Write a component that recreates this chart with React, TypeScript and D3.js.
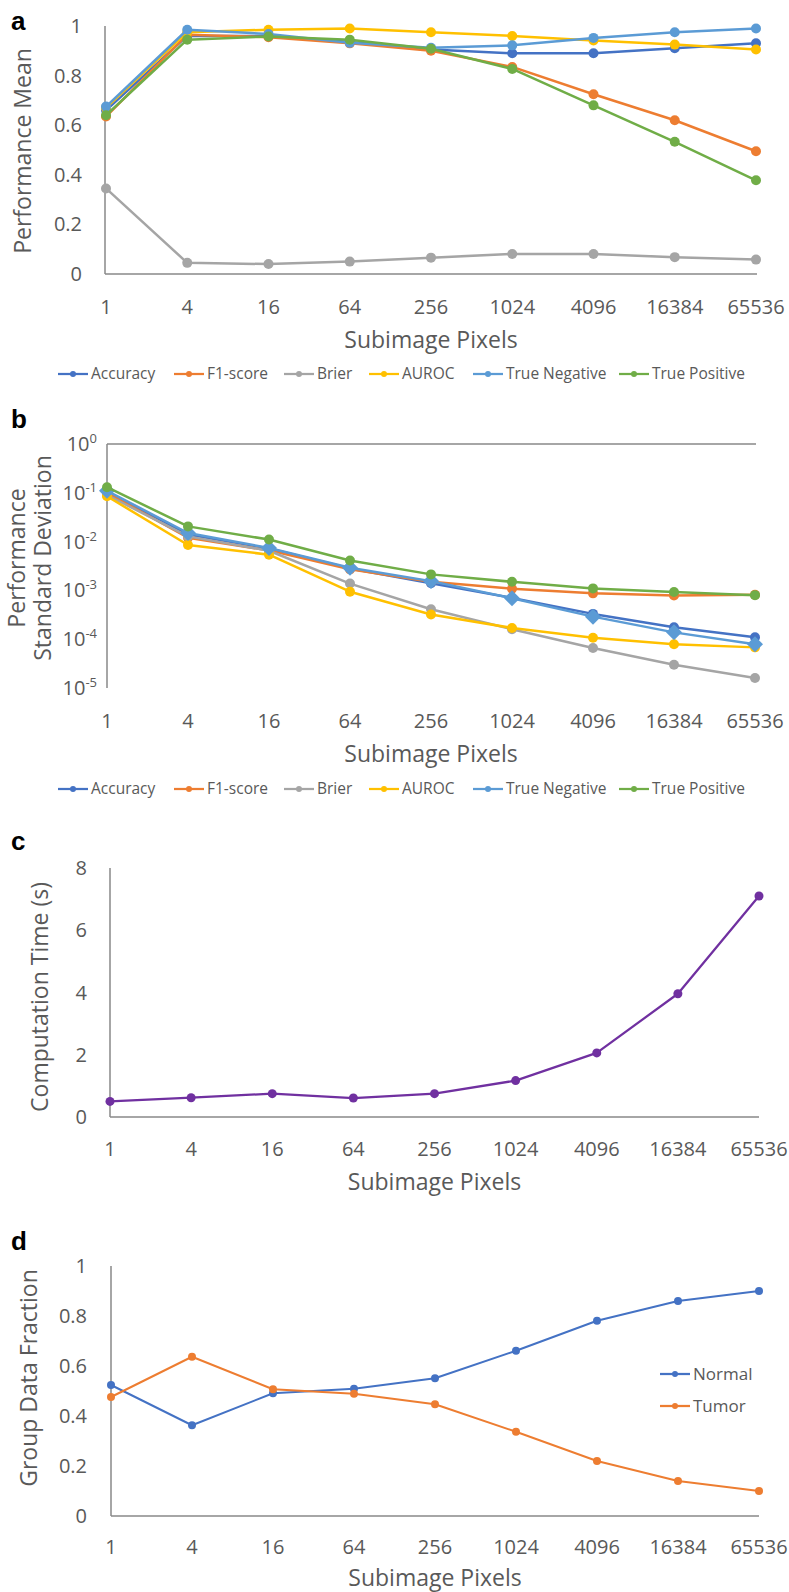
import React, { useEffect, useRef } from 'react';
import * as d3 from 'd3';

// subimage sizes shared by all four panels
const pixels = ['1', '4', '16', '64', '256', '1024', '4096', '16384', '65536'];

const metrics = ['Accuracy', 'F1-score', 'Brier', 'AUROC', 'True Negative', 'True Positive'];
const metricColors = ['#4472C4', '#ED7D31', '#A5A5A5', '#FFC000', '#5B9BD5', '#70AD47'];

// a: performance mean
const meanAccuracy = [0.66, 0.96, 0.96, 0.935, 0.905, 0.89, 0.89, 0.91, 0.93];
const meanF1 = [0.635, 0.965, 0.955, 0.93, 0.9, 0.835, 0.725, 0.62, 0.495];
const meanBrier = [0.345, 0.045, 0.04, 0.05, 0.066, 0.081, 0.081, 0.068, 0.058];
const meanAUROC = [0.67, 0.975, 0.985, 0.99, 0.975, 0.96, 0.942, 0.925, 0.905];
const meanTN = [0.675, 0.985, 0.968, 0.932, 0.912, 0.922, 0.952, 0.975, 0.99];
const meanTP = [0.64, 0.945, 0.958, 0.945, 0.908, 0.827, 0.68, 0.533, 0.378];

// b: performance standard deviation
const sdAccuracy = [0.105, 0.014, 0.0072, 0.0028, 0.0014, 0.0007, 0.00033, 0.000175, 0.00011];
const sdF1 = [0.1, 0.012, 0.0066, 0.0027, 0.0015, 0.00108, 0.00087, 0.00079, 0.00081];
const sdBrier = [0.09, 0.0128, 0.0065, 0.00138, 0.00041, 0.00016, 0.000066, 0.00003, 0.000016];
const sdAUROC = [0.085, 0.0085, 0.0054, 0.00094, 0.00032, 0.00017, 0.000107, 0.000079, 0.000068];
const sdTN = [0.11, 0.015, 0.0074, 0.0029, 0.00155, 0.00069, 0.00029, 0.000138, 0.000079];
const sdTP = [0.13, 0.0205, 0.011, 0.0041, 0.00213, 0.0015, 0.0011, 0.00093, 0.0008];

// c: computation time (s)
const compTime = [0.5, 0.62, 0.75, 0.61, 0.75, 1.17, 2.06, 3.96, 7.1];

// d: group data fraction
const groups = ['Normal', 'Tumor'];
const groupColors = ['#4472C4', '#ED7D31'];
const fracNormal = [0.524, 0.363, 0.491, 0.509, 0.551, 0.661, 0.781, 0.86, 0.9];
const fracTumor = [0.476, 0.637, 0.507, 0.489, 0.447, 0.337, 0.22, 0.14, 0.1];

const linearTicks = [0, 0.2, 0.4, 0.6, 0.8, 1];
const timeTicks = [0, 2, 4, 6, 8];
const logExponents = [0, -1, -2, -3, -4, -5];

const FONT = "'Open Sans', 'Liberation Sans', sans-serif";
const TEXT = '#595959';
const AXIS = '#898989';

const App = () => {
  const ref = useRef<SVGSVGElement>(null);

  useEffect(() => {
    const svg = d3.select(ref.current);
    svg.selectAll('*').remove();

    const panelLetter = (t: string, x: number, y: number) =>
      svg.append('text').attr('x', x).attr('y', y).text(t)
        .style('font-family', "'Liberation Sans', Arial, sans-serif")
        .style('font-weight', 'bold').style('font-size', '26px').attr('fill', '#000');

    const xAxis = (x: d3.ScalePoint<string>, y: number, titleY: number) => {
      const g = svg.append('g');
      g.selectAll('text.tick').data(pixels).enter().append('text')
        .attr('x', d => x(d)!).attr('y', y).attr('text-anchor', 'middle')
        .attr('fill', TEXT).style('font-family', FONT).style('font-size', '20px').text(d => d);
      const [r0, r1] = x.range();
      g.append('text').attr('x', (r0 + r1) / 2).attr('y', titleY).attr('text-anchor', 'middle')
        .attr('fill', TEXT).style('font-family', FONT).style('font-size', '23px').text('Subimage Pixels');
    };

    const yTitle = (lines: string[], cx: number, cy: number, lh: number) => {
      lines.forEach((t, i) => {
        const xx = cx + (i - (lines.length - 1) / 2) * lh;
        svg.append('text').attr('transform', `translate(${xx},${cy}) rotate(-90)`)
          .attr('text-anchor', 'middle').attr('dy', '0.35em').attr('fill', TEXT)
          .style('font-family', FONT).style('font-size', '23px').text(t);
      });
    };

    const series = (x: d3.ScalePoint<string>, y: (v: number) => number, vals: number[], color: string,
      width: number, r: number, diamond = false) => {
      const line = d3.line<number>().x((_, i) => x(pixels[i])!).y(d => y(d));
      svg.append('path').datum(vals).attr('d', line).attr('fill', 'none')
        .attr('stroke', color).attr('stroke-width', width).attr('stroke-linejoin', 'round');
      if (diamond) {
        svg.append('g').selectAll('path').data(vals).enter().append('path')
          .attr('d', `M0,${-r}L${r},0L0,${r}L${-r},0Z`)
          .attr('transform', (d, i) => `translate(${x(pixels[i])},${y(d)})`).attr('fill', color);
      } else {
        svg.append('g').selectAll('circle').data(vals).enter().append('circle')
          .attr('cx', (_, i) => x(pixels[i])!).attr('cy', d => y(d)).attr('r', r).attr('fill', color);
      }
    };

    const legend = (names: string[], colors: string[], xs: number[], ys: number[], size: number) => {
      names.forEach((n, i) => {
        const g = svg.append('g').attr('transform', `translate(${xs[i]},${ys[i]})`);
        g.append('line').attr('x1', 0).attr('x2', 30).attr('y1', 0).attr('y2', 0)
          .attr('stroke', colors[i]).attr('stroke-width', 2.25);
        g.append('circle').attr('cx', 15).attr('cy', 0).attr('r', 3).attr('fill', colors[i]);
        g.append('text').attr('x', 33).attr('y', 0).attr('dy', '0.35em').attr('fill', TEXT)
          .style('font-family', FONT).style('font-size', `${size}px`).text(n);
      });
    };

    const vLine = (x: number, y0: number, y1: number) =>
      svg.append('line').attr('x1', x).attr('x2', x).attr('y1', y0).attr('y2', y1)
        .attr('stroke', AXIS).attr('stroke-width', 1.5);
    const hLine = (y: number, x0: number, x1: number) =>
      svg.append('line').attr('x1', x0).attr('x2', x1).attr('y1', y).attr('y2', y)
        .attr('stroke', AXIS).attr('stroke-width', 1.5);

    const legendXs = [58, 174, 284, 369, 473, 619];

    // ---- a ----
    const xa = d3.scalePoint<string>().domain(pixels).range([106, 756]);
    const ya = d3.scaleLinear().domain([0, 1]).range([274, 26]);
    panelLetter('a', 11, 30);
    vLine(105, ya(1), ya(0));
    hLine(ya(0), 105, 757);
    linearTicks.forEach(t => svg.append('text').attr('x', 82).attr('y', ya(t)).attr('dy', '0.35em')
      .attr('text-anchor', 'end').attr('fill', TEXT).style('font-family', FONT).style('font-size', '20px')
      .text(d3.format('~g')(t)));
    yTitle(['Performance Mean'], 23, 151, 0);
    xAxis(xa, 314, 348);
    [meanAccuracy, meanF1, meanBrier, meanAUROC, meanTN, meanTP].forEach((s, i) =>
      series(xa, ya, s, metricColors[i], 2.5, 5));
    legend(metrics, metricColors, legendXs, metrics.map(() => 374), 15.5);

    // ---- b ----
    const xb = d3.scalePoint<string>().domain(pixels).range([107, 755]);
    const yb = d3.scaleLog().domain([1, 1e-5]).range([444, 688]);
    panelLetter('b', 11, 428);
    vLine(107, yb(1), yb(1e-5));
    hLine(yb(1), 107, 756);
    logExponents.forEach(e => {
      const t = svg.append('text').attr('x', 97).attr('y', yb(Math.pow(10, e)) + 7)
        .attr('text-anchor', 'end').attr('fill', TEXT).style('font-family', FONT).style('font-size', '20px');
      t.append('tspan').text('10');
      t.append('tspan').attr('dy', -8).style('font-size', '13px').text(String(e));
    });
    yTitle(['Performance', 'Standard Deviation'], 30, 558, 26);
    xAxis(xb, 728, 762);
    const sds = [sdAccuracy, sdF1, sdBrier, sdAUROC, sdTN, sdTP];
    sds.forEach((s, i) => series(xb, yb, s, metricColors[i], 2.5, i === 4 ? 8 : 5, i === 4));
    legend(metrics, metricColors, legendXs, metrics.map(() => 789), 15.5);

    // ---- c ----
    const xc = d3.scalePoint<string>().domain(pixels).range([110, 759]);
    const yc = d3.scaleLinear().domain([0, 8]).range([1117, 868]);
    panelLetter('c', 11, 850);
    vLine(110, yc(8), yc(0));
    hLine(yc(0), 110, 759);
    timeTicks.forEach(t => svg.append('text').attr('x', 87).attr('y', yc(t)).attr('dy', '0.35em')
      .attr('text-anchor', 'end').attr('fill', TEXT).style('font-family', FONT).style('font-size', '20px')
      .text(String(t)));
    yTitle(['Computation Time (s)'], 40, 997, 0);
    xAxis(xc, 1156, 1190);
    series(xc, yc, compTime, '#7030A0', 2.25, 4.5);

    // ---- d ----
    const xd = d3.scalePoint<string>().domain(pixels).range([111, 759]);
    const yd = d3.scaleLinear().domain([0, 1]).range([1516, 1266]);
    panelLetter('d', 11, 1250);
    vLine(111, yd(1), yd(0));
    hLine(yd(0), 111, 759);
    linearTicks.forEach(t => svg.append('text').attr('x', 87).attr('y', yd(t)).attr('dy', '0.35em')
      .attr('text-anchor', 'end').attr('fill', TEXT).style('font-family', FONT).style('font-size', '20px')
      .text(d3.format('~g')(t)));
    yTitle(['Group Data Fraction'], 29, 1378, 0);
    xAxis(xd, 1554, 1586);
    [fracNormal, fracTumor].forEach((s, i) => series(xd, yd, s, groupColors[i], 2, 4));
    legend(groups, groupColors, [660, 660], [1374, 1406], 17);
  }, []);

  return (
    <svg ref={ref} width={789} height={1592}
      style={{ position: 'absolute', left: 0, top: 0, background: '#fff' }} />
  );
};

export default App;
